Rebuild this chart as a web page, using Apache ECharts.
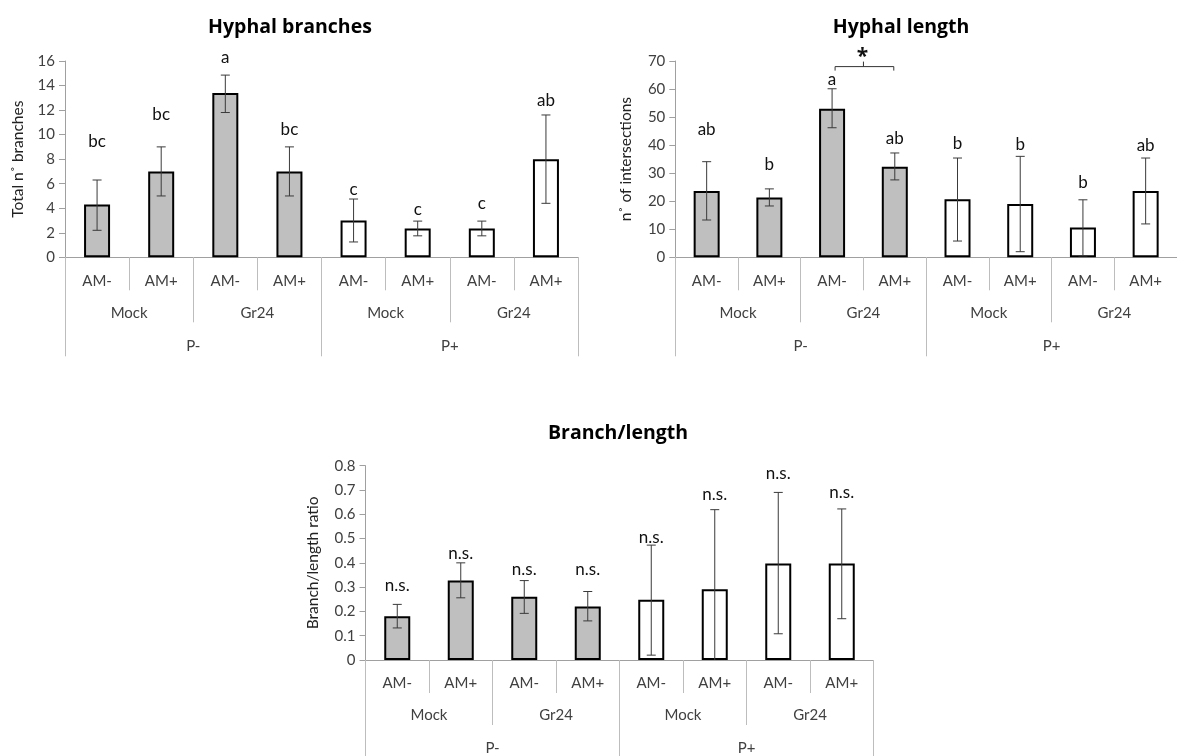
<!DOCTYPE html>
<html>
<head>
<meta charset="utf-8">
<script src="https://cdn.jsdelivr.net/npm/echarts@6/dist/echarts.min.js"></script>
<style>html,body{margin:0;padding:0;background:#fff}#main{width:1177px;height:756px}</style>
</head>
<body>
<div id="main"></div>
<script>
// ---- data ----
const amLabels = ['AM-','AM+','AM-','AM+','AM-','AM+','AM-','AM+'];
const treatLabels = ['Mock','Gr24','Mock','Gr24'];
const phosLabels = ['P-','P+'];
const phosOfBar = [0,0,0,0,1,1,1,1];

const branchMean = [4.3, 7.0, 13.4, 7.0, 3.0, 2.35, 2.35, 8.0];
const branchHigh = [6.3, 9.0, 14.85, 9.0, 4.75, 2.95, 2.95, 11.6];
const branchLow  = [2.2, 5.0, 11.8, 5.0, 1.25, 1.75, 1.75, 4.4];
const branchLetters = ['bc','bc','a','bc','c','c','c','ab'];
const branchLetterAt = [9.4, 11.6, 16.3, 10.4, 5.5, 3.9, 4.4, 12.8];

const lengthMean = [23.6, 21.3, 53.0, 32.3, 20.7, 19.0, 10.6, 23.6];
const lengthHigh = [34.1, 24.4, 60.1, 37.2, 35.4, 36.0, 20.5, 35.4];
const lengthLow  = [13.3, 18.3, 46.2, 27.6, 5.8, 2.0, 0.5, 11.9];
const lengthLetters = ['ab','b','a','ab','b','b','b','ab'];
const lengthLetterAt = [45.6, 33.2, 63.5, 42.4, 40.4, 40.3, 26.6, 39.8];
const lengthBracket = [2, 3, 68.0]; // from bar, to bar, level
const lengthBracketMark = '*';

const ratioMean = [0.18, 0.327, 0.26, 0.22, 0.248, 0.291, 0.397, 0.397];
const ratioHigh = [0.229, 0.40, 0.327, 0.282, 0.473, 0.619, 0.69, 0.622];
const ratioLow  = [0.132, 0.256, 0.192, 0.161, 0.02, -0.05, 0.108, 0.17];
const ratioLetters = ['n.s.','n.s.','n.s.','n.s.','n.s.','n.s.','n.s.','n.s.'];
const ratioLetterAt = [0.306, 0.44, 0.371, 0.371, 0.504, 0.68, 0.766, 0.691];

const titles = ['Hyphal branches','Hyphal length','Branch/length'];
const yNames = ['Total n˚ branches','n˚ of intersections','Branch/length ratio'];

// ---- styles ----
const FONT = 'Lato, "Open Sans", sans-serif';
const TITLE_FONT = '"Open Sans", Lato, sans-serif';
const AXIS_GREY = '#a0a0a0';
const SEP_GREY = '#bdbdbd';
const TXT = '#404040';
const FILLS = ['#bfbfbf', '#ffffff'];

const chart = echarts.init(document.getElementById('main'));

const grids = [
  {left: 65, top: 61, width: 513, height: 196.3},
  {left: 675.3, top: 61, width: 512.4, height: 196.3},
  {left: 365.5, top: 465.7, width: 508, height: 196}
];
const yCfg = [
  {max: 16, interval: 2, nameGap: 39},
  {max: 70, interval: 10, nameGap: 41},
  {max: 0.8, interval: 0.1, nameGap: 44.5}
];
const titlePos = [[290, 17], [901, 17], [618, 423]];

const xAxes = [], yAxes = [], series = [], titleArr = [];

function levelAxis(g, data, tickLen, margin, showLine) {
  return {
    gridIndex: g, type: 'category', data: data, position: 'bottom',
    axisLine: {show: showLine, onZero: false, lineStyle: {color: AXIS_GREY, width: 1}},
    axisTick: {show: true, interval: 0, length: tickLen, lineStyle: {color: SEP_GREY, width: 1}},
    axisLabel: {interval: 0, margin: margin, fontSize: 15, color: TXT, fontFamily: FONT},
    splitLine: {show: false}
  };
}

function errorRender(params, api) {
  const i = api.value(0);
  const lo = api.value(1), hi = api.value(2);
  const pHi = api.coord([i, hi]);
  const clipped = lo < 0;
  const pLo = api.coord([i, clipped ? 0 : lo]);
  const x = pHi[0], cw = 4.5;
  const style = {stroke: '#3a3a3a', lineWidth: 1};
  const children = [
    {type: 'line', shape: {x1: x, y1: pHi[1], x2: x, y2: pLo[1]}, style: style},
    {type: 'line', shape: {x1: x - cw, y1: pHi[1], x2: x + cw, y2: pHi[1]}, style: style}
  ];
  if (!clipped) children.push({type: 'line', shape: {x1: x - cw, y1: pLo[1], x2: x + cw, y2: pLo[1]}, style: style});
  return {type: 'group', children: children};
}

function letterRender(letters) {
  return function (params, api) {
    const i = api.value(0);
    const p = api.coord([i, api.value(1)]);
    return {type: 'text', x: p[0], y: p[1], style: {
      text: letters[i], align: 'center', verticalAlign: 'middle',
      fontSize: 17, fontFamily: FONT, fill: '#111'
    }};
  };
}

const sets = [
  [branchMean, branchHigh, branchLow, branchLetters, branchLetterAt],
  [lengthMean, lengthHigh, lengthLow, lengthLetters, lengthLetterAt],
  [ratioMean, ratioHigh, ratioLow, ratioLetters, ratioLetterAt]
];

sets.forEach((s, g) => {
  const [mean, high, low, letters, letterAt] = s;
  titleArr.push({
    text: titles[g], left: titlePos[g][0], top: titlePos[g][1], textAlign: 'center', padding: 0,
    textStyle: {fontSize: 19.5, fontWeight: 'bold', fontFamily: TITLE_FONT, color: '#000'}
  });
  const base = xAxes.length;
  xAxes.push(levelAxis(g, amLabels, 33, 16, true));
  xAxes.push(levelAxis(g, treatLabels, 65, 48, false));
  xAxes.push(levelAxis(g, phosLabels, 99, 81, false));
  yAxes.push({
    gridIndex: g, type: 'value', min: 0, max: yCfg[g].max, interval: yCfg[g].interval,
    name: yNames[g], nameLocation: 'middle', nameGap: yCfg[g].nameGap,
    nameTextStyle: {fontSize: 15.5, color: '#222', fontFamily: FONT},
    axisLine: {show: true, lineStyle: {color: AXIS_GREY}},
    axisTick: {show: true, length: 6, lineStyle: {color: AXIS_GREY}},
    axisLabel: {fontSize: 15, color: TXT, fontFamily: FONT, margin: 10},
    splitLine: {show: false}
  });
  series.push({
    type: 'bar', xAxisIndex: base, yAxisIndex: g, barWidth: 26, silent: true,
    data: mean.map((v, i) => ({value: v, itemStyle: {color: FILLS[phosOfBar[i]]}})),
    itemStyle: {borderColor: '#000', borderWidth: 2}, z: 2
  });
  series.push({
    type: 'custom', xAxisIndex: base, yAxisIndex: g, silent: true, clip: false, z: 3,
    data: mean.map((v, i) => [i, low[i], high[i]]),
    renderItem: errorRender
  });
  series.push({
    type: 'custom', xAxisIndex: base, yAxisIndex: g, silent: true, clip: false, z: 4,
    data: letterAt.map((v, i) => [i, v]),
    renderItem: letterRender(letters)
  });
  if (g === 1) {
    series.push({
      type: 'custom', xAxisIndex: base, yAxisIndex: g, silent: true, clip: false, z: 4,
      data: [lengthBracket],
      renderItem: function (params, api) {
        const a = api.coord([api.value(0), api.value(2)]);
        const b = api.coord([api.value(1), api.value(2)]);
        const y = a[1], xm = (a[0] + b[0]) / 2;
        const st = {stroke: '#333', lineWidth: 1, fill: null};
        return {type: 'group', children: [
          {type: 'polyline', shape: {points: [[a[0] + 3, y + 4], [a[0] + 3, y], [b[0] - 1, y], [b[0] - 1, y + 4]]}, style: st},
          {type: 'line', shape: {x1: xm, y1: y, x2: xm, y2: y - 5}, style: st},
          {type: 'text', x: xm - 1, y: y - 10, style: {text: lengthBracketMark, align: 'center', verticalAlign: 'middle', fontSize: 21, fontWeight: 'bold', fontFamily: TITLE_FONT, fill: '#111'}}
        ]};
      }
    });
  }
});

chart.setOption({
  animation: false,
  backgroundColor: '#fff',
  title: titleArr,
  grid: grids,
  xAxis: xAxes,
  yAxis: yAxes,
  series: series
});
</script>
</body>
</html>
